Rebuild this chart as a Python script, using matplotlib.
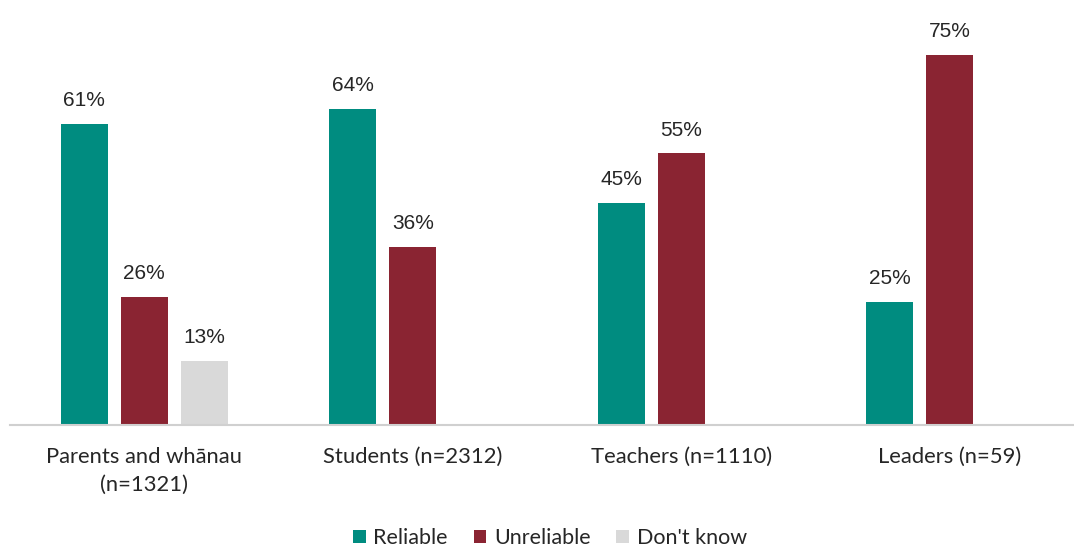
import numpy as np
import matplotlib
matplotlib.use("Agg")
import matplotlib.pyplot as plt

# ── data ────────────────────────────────────────────────────────────
groups = ["Parents and wh\u0101nau\n(n=1321)", "Students (n=2312)",
          "Teachers (n=1110)", "Leaders (n=59)"]
series = ["Reliable", "Unreliable", "Don't know"]
reliable = [61, 64, 45, 25]
unreliable = [26, 36, 55, 75]
dont_know = [13, np.nan, np.nan, np.nan]

colors = ["#008C80", "#8A2432", "#D9D9D9"]

fig = plt.figure(figsize=(10.74, 5.47), dpi=100)
ax = fig.add_axes([10 / 1074, 122 / 547, 1064 / 1074, 395 / 547])

x = np.arange(len(groups))
width = 0.175
step = 0.223

for i, (name, vals, col) in enumerate(zip(series, [reliable, unreliable, dont_know], colors)):
    pos = x + (i - 1) * step
    vals = np.array(vals, dtype=float)
    ax.bar(pos, np.nan_to_num(vals), width, color=col, label=name, linewidth=0)
    for p, v in zip(pos, vals):
        if np.isnan(v):
            continue
        ax.annotate(f"{v:.0f}%", (p, v), xytext=(0, 10), textcoords="offset points",
                    ha="center", va="bottom", fontsize=15,
                    family="Liberation Sans", color="#262626")

ax.set_xlim(-0.5, -0.5 + 1064 / 268.5)
ax.set_ylim(0, 80)
ax.set_xticks(x)
ax.set_xticklabels(groups, family="Lato", fontsize=15.8, color="#262626",
                   linespacing=1.45)
ax.tick_params(axis="x", length=0, pad=16)
ax.set_yticks([])
for s in ["top", "right", "left"]:
    ax.spines[s].set_visible(False)
ax.spines["bottom"].set_color("#D0D0D0")
ax.spines["bottom"].set_linewidth(1.5)

fig.legend(loc="center", bbox_to_anchor=(0.512, 9 / 547), ncol=3, frameon=False,
           prop={"family": "Lato", "size": 15.5}, handlelength=0.6, handleheight=0.6,
           handletextpad=0.35, columnspacing=1.2, labelcolor="#262626")

fig.savefig("out.png", dpi=100)
